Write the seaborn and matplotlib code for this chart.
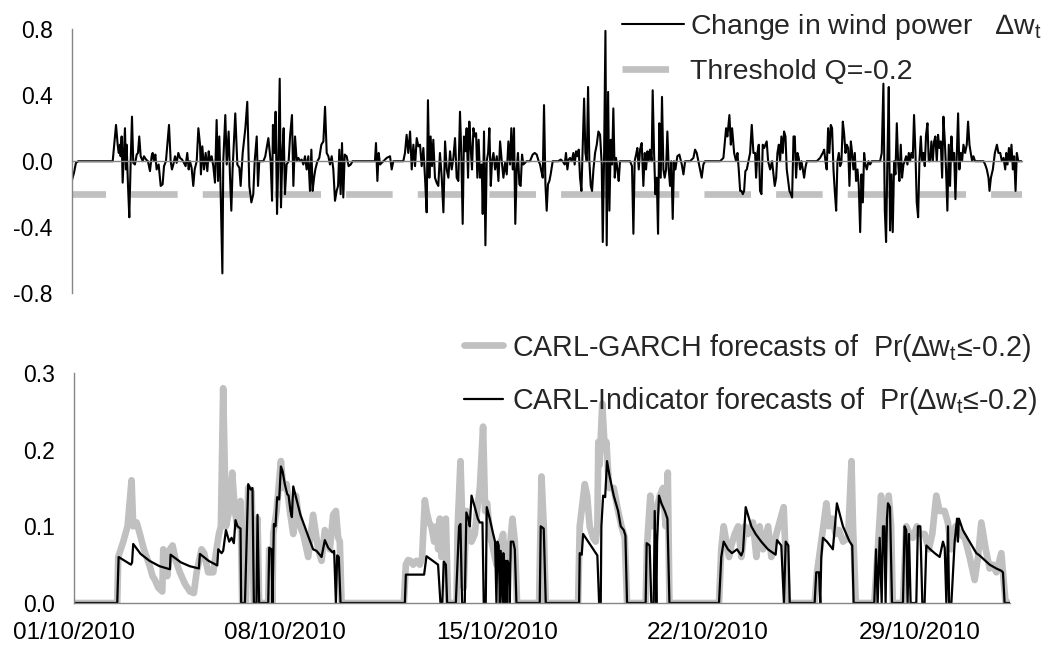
import pandas as pd
import numpy as np
import matplotlib.pyplot as plt
import matplotlib.dates as mdates
from matplotlib.lines import Line2D
from matplotlib.ticker import FormatStrFormatter
import seaborn as sns

# ----------------------------------------------------------
# DATA - time is hours after 01/10/2010 00:00
# ----------------------------------------------------------
start_date = '2010-10-01'
n_days = 31
threshold_q = -0.2

# change in wind power (top panel)
dw_points = [
    (0.0, -0.115), (1.6, -0.07), (3.1, -0.01), (5.0, 0.0), (31.9, 0.0),
    (34.5, 0.22), (35.8, 0.10), (36.6, 0.05), (37.6, 0.10), (38.1, 0.03), (38.9, 0.15), (39.7, -0.13),
    (40.7, 0.05), (41.5, 0.20), (42.3, -0.05), (42.8, 0.10), (43.9, -0.15), (44.9, -0.34), (46.0, 0.0),
    (47.0, 0.27), (48.0, -0.01), (49.3, -0.02), (50.7, 0.04), (51.7, 0.05), (52.7, 0.15), (53.8, 0.03),
    (55.4, 0.0), (56.4, 0.03), (58.0, 0.01), (59.5, 0.0), (61.1, -0.06), (62.4, 0.03), (63.2, 0.05),
    (64.2, 0.0), (65.3, 0.04), (66.3, -0.05), (67.9, -0.02), (69.5, -0.15), (71.0, -0.14), (72.1, -0.03),
    (73.6, 0.0), (74.7, 0.10), (76.0, 0.22), (77.3, 0.0), (78.3, -0.05), (79.4, -0.02), (80.7, 0.03),
    (82.0, -0.01), (83.3, 0.05), (84.6, 0.02), (86.2, 0.01), (87.7, -0.01), (89.0, -0.03), (90.3, 0.05),
    (91.4, -0.05), (92.4, 0.0), (93.7, -0.04), (95.0, -0.15), (96.1, -0.05), (97.7, 0.0), (99.0, 0.20),
    (100.3, 0.10), (101.0, -0.08), (102.1, 0.09), (103.4, -0.05), (104.7, 0.05), (106.0, -0.06),
    (107.1, 0.06), (108.1, 0.0), (109.4, 0.03), (110.7, -0.03), (112.0, -0.13), (113.3, 0.25),
    (114.4, -0.12), (115.4, 0.15), (116.5, -0.20), (117.8, -0.68), (118.5, 0.0), (120.1, 0.28),
    (121.2, -0.02), (122.7, 0.18), (123.8, -0.10), (124.8, -0.30), (125.8, -0.05), (127.9, 0.29),
    (129.5, -0.02), (131.1, -0.04), (132.1, -0.15), (133.7, 0.05), (135.8, 0.20), (137.3, 0.36),
    (138.9, -0.15), (140.5, -0.25), (142.0, -0.20), (143.1, 0.0), (144.7, 0.15), (145.7, -0.15),
    (146.7, 0.0), (149.9, 0.0), (151.4, 0.03), (153.8, 0.14), (155.6, 0.0), (156.7, -0.24), (157.4, 0.22),
    (158.5, 0.05), (159.5, 0.30), (160.6, -0.32), (161.6, 0.0), (162.7, 0.50), (163.7, -0.28), (164.8, 0.05),
    (165.8, 0.20), (166.8, -0.20), (168.1, -0.02), (169.7, 0.0), (170.8, 0.15), (172.3, 0.28), (173.4, -0.15),
    (174.7, 0.15), (176.0, 0.0), (177.3, 0.02), (178.6, 0.0), (179.9, 0.01), (181.2, -0.02), (182.5, 0.03),
    (183.8, -0.05), (185.1, 0.03), (186.4, -0.18), (187.5, 0.07), (188.5, -0.18), (189.6, -0.10), (190.6, -0.05),
    (192.2, 0.0), (193.7, 0.02), (195.3, 0.10), (196.9, 0.12), (198.2, 0.33), (199.5, 0.05), (200.8, 0.03),
    (202.1, -0.02), (203.4, 0.03), (204.7, -0.05), (206.0, -0.24), (207.3, -0.18), (208.4, -0.15), (209.4, 0.07),
    (210.4, -0.20), (211.5, 0.11), (212.5, -0.22), (213.6, 0.04), (215.1, 0.03), (216.7, -0.03), (218.3, -0.02),
    (219.8, 0.0), (237.3, 0.0), (238.1, 0.11), (239.2, -0.12), (240.2, 0.05), (241.3, -0.02), (243.9, 0.0),
    (246.5, 0.02), (249.1, 0.03), (250.4, -0.05), (251.7, 0.0), (259.5, 0.0), (260.8, 0.05), (262.1, 0.16),
    (263.4, 0.05), (264.8, 0.18), (266.1, -0.05), (267.4, 0.10), (268.7, -0.03), (270.0, 0.14), (271.3, 0.09),
    (272.6, 0.10), (273.9, -0.03), (275.2, 0.08), (276.5, -0.10), (277.8, -0.31), (278.8, 0.37), (279.9, -0.10),
    (280.9, 0.15), (282.0, -0.03), (283.0, 0.13), (284.3, -0.10), (285.6, -0.13), (286.9, -0.15), (288.2, 0.05),
    (289.6, -0.10), (290.9, -0.31), (292.2, 0.12), (293.5, -0.05), (294.8, -0.10), (296.1, 0.06), (297.4, -0.05),
    (298.7, 0.02), (300.0, 0.14), (301.3, -0.10), (302.6, -0.12), (303.9, 0.30), (304.9, 0.05), (306.0, -0.38),
    (307.0, 0.15), (308.1, 0.06), (309.1, 0.20), (310.2, -0.10), (311.2, 0.24), (312.3, 0.08), (313.3, -0.05),
    (314.4, 0.20), (315.4, 0.15), (316.5, 0.17), (317.5, -0.10), (318.5, 0.13), (319.6, -0.10), (320.9, -0.02),
    (321.7, -0.32), (322.7, 0.18), (323.8, -0.51), (324.8, 0.0), (325.9, 0.05), (326.9, 0.20), (328.0, -0.15),
    (329.0, 0.0), (330.1, 0.05), (331.4, -0.05), (332.7, 0.03), (334.0, -0.12), (335.3, 0.12), (336.6, 0.0),
    (337.9, -0.10), (339.2, -0.01), (340.5, -0.08), (341.8, 0.12), (343.1, -0.02), (344.1, 0.20), (345.2, -0.05),
    (346.2, 0.20), (347.2, -0.38), (348.3, -0.05), (349.3, 0.05), (350.4, -0.14), (351.4, -0.15), (352.5, 0.04),
    (353.5, -0.02), (356.1, 0.0), (358.7, 0.0), (360.8, 0.04), (362.4, 0.05), (364.0, 0.04), (365.5, 0.0),
    (366.6, -0.02), (367.6, -0.06), (368.7, -0.10), (369.7, 0.34), (370.8, -0.14), (371.8, -0.30), (372.8, -0.14),
    (373.9, -0.12), (374.9, -0.08), (376.5, 0.0), (380.9, 0.0), (382.8, 0.01), (384.3, 0.0), (385.9, -0.02),
    (386.9, 0.05), (388.0, -0.05), (389.0, 0.01), (390.1, 0.02), (391.4, 0.0), (392.7, 0.05), (393.7, -0.02),
    (394.8, 0.06), (395.8, 0.03), (396.9, 0.07), (397.9, -0.10), (399.0, -0.18), (400.0, 0.08), (401.1, 0.38),
    (402.1, 0.05), (403.2, 0.0), (404.2, 0.45), (405.2, 0.0), (406.3, -0.15), (407.3, -0.18), (408.4, -0.05),
    (409.7, 0.05), (411.0, 0.10), (412.3, 0.18), (413.6, 0.16), (414.9, -0.02), (415.7, -0.49), (416.7, 0.0),
    (417.8, 0.79), (418.8, -0.51), (419.9, 0.42), (420.9, -0.30), (422.0, 0.13), (423.0, -0.02), (424.0, 0.32),
    (425.1, -0.10), (426.1, 0.02), (427.2, -0.05), (428.2, -0.12), (429.2, 0.0), (437.1, 0.0), (438.6, -0.03),
    (439.7, -0.44), (440.7, 0.0), (441.8, 0.04), (442.8, 0.08), (443.9, -0.05), (444.9, 0.07), (446.2, 0.11),
    (447.5, -0.15), (448.6, 0.05), (449.6, -0.05), (450.7, 0.06), (451.7, 0.0), (452.7, 0.07), (454.0, 0.0),
    (454.8, 0.43), (455.9, 0.05), (456.9, -0.20), (458.0, -0.10), (459.0, -0.44), (460.0, 0.23), (461.1, -0.10),
    (462.1, 0.39), (463.2, -0.05), (464.2, -0.10), (465.3, -0.05), (466.3, 0.18), (467.4, -0.05), (468.4, -0.15),
    (469.4, 0.0), (470.5, -0.35), (471.5, 0.0), (472.6, -0.05), (474.1, 0.03), (475.7, 0.04), (477.6, -0.02),
    (478.9, -0.08), (480.2, 0.0), (484.1, 0.0), (486.7, 0.02), (488.0, 0.07), (489.3, 0.05), (490.6, 0.0),
    (491.9, -0.05), (493.2, -0.10), (494.5, -0.02), (495.8, 0.0), (507.6, 0.0), (510.2, 0.02), (512.3, 0.20),
    (513.3, 0.15), (514.9, 0.28), (516.0, 0.10), (517.0, 0.20), (518.6, 0.05), (520.1, 0.0), (521.2, 0.05),
    (522.2, -0.05), (523.3, -0.18), (524.3, -0.18), (525.4, -0.20), (526.4, -0.18), (527.4, -0.06), (528.5, -0.05),
    (529.8, 0.0), (531.1, 0.05), (532.4, 0.22), (533.7, 0.05), (535.0, 0.05), (535.8, -0.10), (536.8, 0.05),
    (537.9, 0.10), (538.9, -0.18), (540.0, -0.20), (541.0, 0.10), (542.1, 0.08), (543.1, 0.10), (544.1, 0.12),
    (545.2, 0.0), (546.8, -0.05), (548.3, 0.0), (549.4, -0.08), (550.4, -0.15), (551.5, -0.10), (552.5, 0.05),
    (553.6, 0.10), (554.6, 0.0), (555.6, 0.15), (556.7, 0.05), (557.7, 0.18), (558.8, 0.15), (559.8, -0.05),
    (560.9, -0.12), (561.9, -0.18), (563.0, -0.20), (564.0, -0.22), (565.1, 0.15), (566.1, 0.15), (567.1, -0.10),
    (568.2, 0.05), (569.2, 0.02), (570.3, -0.05), (571.3, 0.0), (572.4, -0.05), (573.4, -0.10), (574.4, -0.04),
    (575.5, 0.0), (583.3, 0.0), (585.9, 0.02), (588.0, 0.05), (589.1, 0.07), (590.1, 0.0), (591.1, -0.05),
    (592.2, 0.20), (593.2, 0.05), (594.3, 0.22), (595.3, 0.20), (596.4, -0.05), (597.4, -0.18), (598.5, -0.30),
    (599.5, 0.0), (600.6, 0.05), (601.6, -0.03), (602.6, -0.01), (603.7, 0.24), (604.7, 0.17), (605.8, 0.05),
    (606.8, 0.10), (607.9, 0.08), (608.9, -0.15), (610.0, 0.12), (611.0, 0.05), (612.0, -0.05), (613.1, 0.05),
    (614.1, -0.12), (615.2, -0.05), (616.2, -0.15), (617.3, -0.43), (618.3, -0.08), (619.4, -0.25), (620.4, 0.05),
    (621.4, -0.02), (622.5, -0.05), (623.8, 0.0), (625.1, -0.02), (626.4, 0.0), (632.9, 0.0), (634.2, 0.05),
    (635.5, 0.47), (636.6, -0.30), (637.6, -0.49), (638.6, 0.0), (639.7, 0.45), (640.7, -0.42), (641.8, -0.08),
    (642.8, -0.43), (643.9, 0.0), (644.9, -0.08), (646.0, 0.23), (647.0, 0.0), (648.0, -0.12), (649.1, 0.10),
    (650.1, -0.10), (651.2, -0.02), (652.2, 0.0), (653.3, 0.03), (654.3, -0.02), (655.4, 0.05), (656.4, 0.0),
    (657.4, 0.05), (658.5, 0.02), (659.5, 0.28), (660.6, 0.05), (661.6, -0.25), (662.7, -0.34), (663.7, 0.0),
    (664.8, 0.15), (665.8, 0.0), (666.8, 0.05), (667.9, -0.03), (668.9, 0.16), (670.0, 0.23), (671.0, 0.0),
    (672.1, 0.0), (673.1, 0.12), (674.2, 0.0), (675.2, 0.12), (676.2, 0.15), (677.3, 0.0), (678.3, 0.16),
    (679.4, 0.08), (680.4, 0.12), (681.5, -0.10), (682.5, 0.27), (683.6, 0.12), (684.6, -0.06), (685.6, -0.30),
    (686.7, 0.10), (687.7, -0.15), (688.8, 0.15), (689.8, 0.0), (690.9, 0.05), (691.9, -0.23), (693.0, 0.05),
    (694.0, 0.29), (695.0, -0.05), (696.1, 0.05), (697.1, 0.0), (698.2, 0.10), (699.5, 0.05), (700.8, 0.10),
    (701.8, 0.24), (702.9, 0.10), (703.9, 0.05), (705.0, 0.0), (706.0, 0.03), (707.3, 0.0), (713.9, 0.0),
    (715.2, -0.02), (716.5, -0.05), (717.8, -0.10), (718.6, -0.18), (719.7, -0.10), (721.2, -0.05), (722.8, 0.05),
    (724.4, 0.10), (725.6, 0.05), (727.0, 0.05), (728.3, 0.0), (729.6, 0.02), (730.9, -0.05), (731.7, 0.05),
    (732.7, -0.02), (733.8, 0.08), (734.8, 0.0), (735.8, 0.10), (736.9, -0.05), (737.9, 0.03), (739.0, -0.18),
    (740.0, 0.05), (741.1, 0.0), (743.9, 0.0),
]

# CARL-GARCH probability forecasts (bottom panel, grey)
garch_points = [
    (0.0, 0.0), (34.4, 0.0), (35.2, 0.06), (39.2, 0.08), (42.6, 0.10), (45.8, 0.16), (47.1, 0.10),
    (49.8, 0.105), (52.4, 0.09), (55.6, 0.07), (59.9, 0.05), (62.5, 0.035), (64.4, 0.03), (67.0, 0.02),
    (70.2, 0.015), (71.0, 0.07), (72.8, 0.065), (74.2, 0.035), (76.3, 0.07), (78.4, 0.075), (81.0, 0.055),
    (84.2, 0.04), (88.2, 0.025), (92.2, 0.015), (95.3, 0.013), (97.5, 0.04), (101.4, 0.07), (103.5, 0.065),
    (106.7, 0.04), (110.7, 0.04), (113.3, 0.07), (115.2, 0.09), (116.8, 0.10), (118.6, 0.28), (120.8, 0.10),
    (123.4, 0.12), (125.8, 0.17), (127.9, 0.12), (129.8, 0.10), (132.4, 0.133), (133.7, 0.0), (136.7, 0.0),
    (138.5, 0.15), (141.2, 0.145), (143.0, 0.0), (145.1, 0.0), (145.9, 0.11), (147.2, 0.0), (154.4, 0.0),
    (155.2, 0.07), (157.0, 0.07), (157.8, 0.0), (158.4, 0.09), (161.0, 0.12), (164.5, 0.185), (166.3, 0.15),
    (169.0, 0.155), (171.6, 0.12), (174.3, 0.09), (176.4, 0.14), (179.6, 0.10), (182.2, 0.09), (186.2, 0.06),
    (190.1, 0.115), (194.1, 0.07), (196.8, 0.055), (199.4, 0.095), (203.4, 0.07), (206.0, 0.115),
    (208.2, 0.12), (210.0, 0.085), (211.3, 0.08), (212.7, 0.0),
    (262.2, 0.0), (263.8, 0.05), (265.6, 0.056), (267.4, 0.055), (269.6, 0.05), (272.2, 0.055), (274.9, 0.05),
    (276.7, 0.06), (278.9, 0.134), (280.2, 0.12), (282.3, 0.105), (284.1, 0.10), (286.3, 0.08), (288.1, 0.10),
    (289.5, 0.07), (290.8, 0.11), (292.1, 0.06), (294.0, 0.10), (295.6, 0.11), (297.4, 0.0), (304.1, 0.0),
    (304.9, 0.095), (307.2, 0.185), (308.8, 0.10), (309.8, 0.02), (312.0, 0.12), (314.1, 0.085), (316.0, 0.08),
    (318.6, 0.09), (320.4, 0.12), (322.6, 0.15), (325.2, 0.23), (326.8, 0.12), (328.4, 0.13), (330.5, 0.09),
    (333.2, 0.07), (335.8, 0.05), (338.5, 0.075), (341.1, 0.09), (343.0, 0.04), (345.1, 0.055), (346.9, 0.08),
    (348.5, 0.11), (350.4, 0.08), (352.2, 0.0), (369.7, 0.0), (371.6, 0.165), (373.4, 0.10), (375.0, 0.0),
    (400.7, 0.0), (402.0, 0.10), (404.2, 0.13), (406.0, 0.155), (407.9, 0.14), (409.9, 0.10), (412.6, 0.085),
    (414.7, 0.08), (416.0, 0.10), (416.8, 0.21), (417.8, 0.18), (419.9, 0.26), (421.9, 0.20), (423.2, 0.21),
    (425.3, 0.15), (429.0, 0.15), (432.5, 0.12), (435.2, 0.10), (437.8, 0.085), (439.6, 0.0), (454.4, 0.0),
    (455.5, 0.075), (458.1, 0.14), (460.3, 0.10), (462.9, 0.12), (465.6, 0.14), (468.2, 0.15), (470.3, 0.10),
    (472.0, 0.17), (473.3, 0.0),
    (512.7, 0.0), (514.5, 0.07), (516.4, 0.10), (518.5, 0.08), (520.7, 0.06), (522.5, 0.075), (525.2, 0.09),
    (527.9, 0.10), (530.5, 0.06), (533.1, 0.10), (535.8, 0.09), (539.7, 0.105), (542.4, 0.06), (545.0, 0.10),
    (547.7, 0.07), (551.7, 0.10), (554.3, 0.06), (558.3, 0.09), (564.1, 0.125), (565.7, 0.06), (567.5, 0.0),
    (588.7, 0.0), (590.6, 0.04), (594.8, 0.09), (598.0, 0.13), (600.1, 0.10), (602.8, 0.11), (605.4, 0.09),
    (608.1, 0.095), (611.3, 0.08), (615.3, 0.085), (618.0, 0.185), (619.2, 0.10), (621.4, 0.0), (636.1, 0.0),
    (638.9, 0.07), (641.5, 0.14), (643.3, 0.09), (647.6, 0.14), (649.5, 0.10), (650.8, 0.0), (658.9, 0.0),
    (661.5, 0.10), (664.2, 0.09), (666.8, 0.085), (670.0, 0.10), (672.1, 0.09), (676.1, 0.09), (679.5, 0.07),
    (682.2, 0.09), (685.4, 0.14), (688.0, 0.12), (692.0, 0.12), (694.6, 0.105), (697.3, 0.07), (700.7, 0.10),
    (704.0, 0.09), (708.0, 0.085), (711.9, 0.06), (715.9, 0.03), (718.6, 0.06), (721.2, 0.105), (724.7, 0.07),
    (727.8, 0.045), (730.4, 0.05), (733.1, 0.04), (737.1, 0.065), (738.9, 0.03), (740.5, 0.0), (744.0, 0.0),
]

# CARL-Indicator probability forecasts (bottom panel, black)
indicator_points = [
    (0.0, 0.0), (34.4, 0.0), (35.5, 0.06), (45.3, 0.05), (46.2, 0.053), (47.1, 0.077), (53.0, 0.064),
    (60.0, 0.055), (68.0, 0.048), (76.3, 0.044), (76.8, 0.063), (85.0, 0.053), (92.0, 0.048), (99.3, 0.045),
    (100.1, 0.064), (107.0, 0.055), (113.9, 0.049), (114.7, 0.07), (117.3, 0.065), (118.6, 0.068),
    (120.8, 0.095), (123.4, 0.08), (125.3, 0.085), (127.1, 0.078), (128.4, 0.108), (130.0, 0.10),
    (132.4, 0.097), (132.9, 0.0), (135.9, 0.0), (138.5, 0.155), (140.4, 0.148), (141.9, 0.15), (143.0, 0.0),
    (145.1, 0.0), (145.9, 0.115), (147.2, 0.0), (154.4, 0.0), (155.2, 0.072), (157.0, 0.07), (157.8, 0.0),
    (158.9, 0.103), (160.2, 0.10), (161.5, 0.138), (163.1, 0.135), (164.5, 0.178), (165.8, 0.172),
    (167.6, 0.155), (169.5, 0.142), (170.6, 0.14), (172.1, 0.12), (173.2, 0.112), (174.3, 0.152),
    (180.0, 0.115), (186.0, 0.088), (190.1, 0.07), (192.8, 0.068), (196.8, 0.06), (199.4, 0.082),
    (202.1, 0.072), (205.5, 0.066), (206.8, 0.068), (208.2, 0.0), (209.2, 0.062), (210.5, 0.06), (211.9, 0.0),
    (263.0, 0.0), (263.8, 0.037), (278.3, 0.037), (280.2, 0.061), (289.4, 0.05), (291.3, 0.0), (292.8, 0.0),
    (293.9, 0.054), (295.6, 0.05), (296.6, 0.0), (303.5, 0.0), (306.1, 0.10), (307.2, 0.103), (308.5, 0.0),
    (310.6, 0.0), (311.9, 0.118), (313.6, 0.11), (314.6, 0.10), (316.0, 0.14), (318.6, 0.125), (321.0, 0.11),
    (322.5, 0.105), (324.7, 0.105), (325.7, 0.0), (327.3, 0.0), (328.1, 0.125), (330.5, 0.11), (333.2, 0.09),
    (334.7, 0.08), (335.8, 0.0), (336.6, 0.08), (337.6, 0.075), (338.5, 0.0), (339.2, 0.068), (340.6, 0.0),
    (341.3, 0.065), (342.2, 0.0), (343.0, 0.055), (343.8, 0.0), (344.6, 0.055), (345.6, 0.05), (346.4, 0.0),
    (347.2, 0.08), (349.1, 0.08), (350.4, 0.07), (351.7, 0.0), (370.2, 0.0), (371.0, 0.10), (373.4, 0.097),
    (375.0, 0.0), (401.5, 0.0), (402.0, 0.065), (403.6, 0.063), (404.7, 0.09), (408.7, 0.08), (412.6, 0.07),
    (416.0, 0.062), (417.4, 0.0), (418.7, 0.0), (419.2, 0.10), (420.6, 0.14), (422.2, 0.138), (423.7, 0.185),
    (425.8, 0.165), (429.0, 0.14), (432.5, 0.12), (434.6, 0.10), (437.0, 0.095), (438.3, 0.088), (439.6, 0.0),
    (454.4, 0.0), (455.2, 0.078), (457.6, 0.075), (458.9, 0.0), (460.8, 0.0), (461.6, 0.12), (462.9, 0.0),
    (463.5, 0.08), (465.0, 0.14), (466.9, 0.13), (469.6, 0.12), (471.7, 0.11), (473.3, 0.0),
    (512.7, 0.0), (514.5, 0.06), (516.4, 0.08), (519.8, 0.07), (523.0, 0.065), (527.0, 0.07), (530.4, 0.062),
    (531.8, 0.068), (533.9, 0.125), (538.4, 0.10), (541.8, 0.09), (546.3, 0.08), (551.6, 0.07), (557.7, 0.063),
    (558.8, 0.082), (562.2, 0.075), (564.3, 0.0), (565.7, 0.08), (567.8, 0.075), (568.9, 0.0), (588.7, 0.0),
    (590.0, 0.04), (592.2, 0.04), (593.2, 0.0), (594.0, 0.06), (595.3, 0.085), (598.5, 0.08), (603.2, 0.07),
    (606.4, 0.13), (611.2, 0.10), (616.5, 0.08), (618.6, 0.075), (619.7, 0.0), (636.1, 0.0), (637.5, 0.07),
    (638.8, 0.0), (640.4, 0.085), (642.0, 0.0), (643.0, 0.10), (644.1, 0.10), (645.1, 0.0), (646.2, 0.11),
    (647.0, 0.13), (648.6, 0.125), (650.2, 0.0), (658.9, 0.0), (660.2, 0.10), (661.5, 0.095), (662.6, 0.0),
    (663.7, 0.09), (665.0, 0.0), (669.5, 0.0), (670.8, 0.10), (672.7, 0.10), (674.3, 0.0), (676.1, 0.0),
    (677.5, 0.075), (680.6, 0.07), (684.1, 0.065), (688.1, 0.06), (690.7, 0.08), (692.1, 0.072), (693.4, 0.0),
    (694.7, 0.10), (695.6, 0.0), (697.4, 0.0), (700.0, 0.08), (701.9, 0.11), (702.6, 0.08), (703.4, 0.11),
    (706.5, 0.095), (711.9, 0.08), (717.2, 0.065), (719.8, 0.062), (722.5, 0.058), (727.8, 0.05),
    (733.1, 0.045), (737.1, 0.042), (738.4, 0.04), (739.7, 0.0), (744.0, 0.0),
]

top_yticks = [-0.8, -0.4, 0.0, 0.4, 0.8]
bottom_yticks = [0.0, 0.1, 0.2, 0.3]
label_dw = 'Change in wind power   \u2206w$_t$'
label_q = 'Threshold Q=-0.2'
label_garch = 'CARL-GARCH forecasts of  Pr(\u2206w$_t$\u2264-0.2)'
label_ind = 'CARL-Indicator forecasts of  Pr(\u2206w$_t$\u2264-0.2)'

# ----------------------------------------------------------
# STYLE
# ----------------------------------------------------------
sns.set_style('white')
plt.rcParams['font.family'] = ['Liberation Sans', 'DejaVu Sans']
plt.rcParams['axes.unicode_minus'] = False
plt.rcParams['lines.scale_dashes'] = False
plt.rcParams['mathtext.fontset'] = 'custom'
plt.rcParams['mathtext.rm'] = 'Liberation Sans'
plt.rcParams['mathtext.it'] = 'Liberation Sans'

GREY = '#c0c0c0'
AXIS_GREY = '#868686'
t0 = pd.Timestamp(start_date)
t1 = t0 + pd.Timedelta(days=n_days)


def to_frame(points):
    hours, vals = zip(*points)
    return pd.DataFrame({'time': t0 + pd.to_timedelta(list(hours), unit='h'), 'value': vals})


df_dw = to_frame(dw_points)
df_q = pd.DataFrame({'time': [t0, t1], 'value': [threshold_q, threshold_q]})
df_garch = to_frame(garch_points)
df_ind = to_frame(indicator_points)

fig = plt.figure(figsize=(10.46, 6.5), dpi=100)
ax1 = fig.add_axes([0.0688, 0.549, 0.9082, 0.406])
ax2 = fig.add_axes([0.0707, 0.0723, 0.8949, 0.354])

# ---- top panel ----
sns.lineplot(data=df_q, x='time', y='value', ax=ax1, color=GREY, lw=4.8, zorder=1,
             estimator=None, sort=False)
ax1.lines[-1].set_linestyle((9.4, (33.5, 18.1)))
ax1.lines[-1].set_dash_capstyle('butt')
sns.lineplot(data=df_dw, x='time', y='value', ax=ax1, color='black', lw=1.5, zorder=2,
             estimator=None, sort=False)

# ---- bottom panel ----
sns.lineplot(data=df_garch, x='time', y='value', ax=ax2, color=GREY, lw=4.8, zorder=1,
             estimator=None, sort=False)
sns.lineplot(data=df_ind, x='time', y='value', ax=ax2, color='black', lw=1.6, zorder=2,
             estimator=None, sort=False)

week_ticks = pd.date_range(t0, periods=5, freq='7D')
for ax in (ax1, ax2):
    ax.set_xlim(t0, t1)
    ax.set_xlabel('')
    ax.set_ylabel('')
    ax.spines['top'].set_visible(False)
    ax.spines['right'].set_visible(False)
    for s in ('left', 'bottom'):
        ax.spines[s].set_color(AXIS_GREY)
        ax.spines[s].set_linewidth(1.0)
    ax.set_xticks(week_ticks)
    ax.tick_params(axis='both', colors=AXIS_GREY, labelcolor='black', labelsize=16.5,
                   direction='out', width=1.0)
    ax.tick_params(axis='y', length=5.8, pad=8)

ax1.set_ylim(-0.8, 0.8)
ax1.set_yticks(top_yticks)
ax1.yaxis.set_major_formatter(FormatStrFormatter('%.1f'))
ax1.spines['bottom'].set_position(('data', 0))
ax1.tick_params(axis='x', length=3.5, labelbottom=False)

ax2.set_ylim(0, 0.3)
ax2.set_yticks(bottom_yticks)
ax2.yaxis.set_major_formatter(FormatStrFormatter('%.1f'))
ax2.xaxis.set_major_formatter(mdates.DateFormatter('%d/%m/%Y'))
ax2.tick_params(axis='x', length=6.5, pad=7, labelsize=17.5)

# ---- legends ----
h_dw = Line2D([], [], color='black', lw=1.5)
h_q = Line2D([], [], color=GREY, lw=4.8, linestyle=(0, (33.5, 18.1)), dash_capstyle='butt')
fig.legend([h_dw, h_q], [label_dw, label_q], loc='upper left', bbox_to_anchor=(0.5947, 0.982),
           frameon=False, fontsize=20.5, handlelength=2.18, handletextpad=0.21,
           labelspacing=0.6, borderpad=0, borderaxespad=0)

h_g = Line2D([], [], color=GREY, lw=4.8)
h_i = Line2D([], [], color='black', lw=1.6)
fig.legend([h_g, h_i], [label_garch, label_ind], loc='upper left', bbox_to_anchor=(0.4436, 0.49),
           frameon=False, fontsize=20.6, handlelength=1.36, handletextpad=0.3,
           labelspacing=0.75, borderpad=0, borderaxespad=0)

plt.savefig('out.png', dpi=100)
